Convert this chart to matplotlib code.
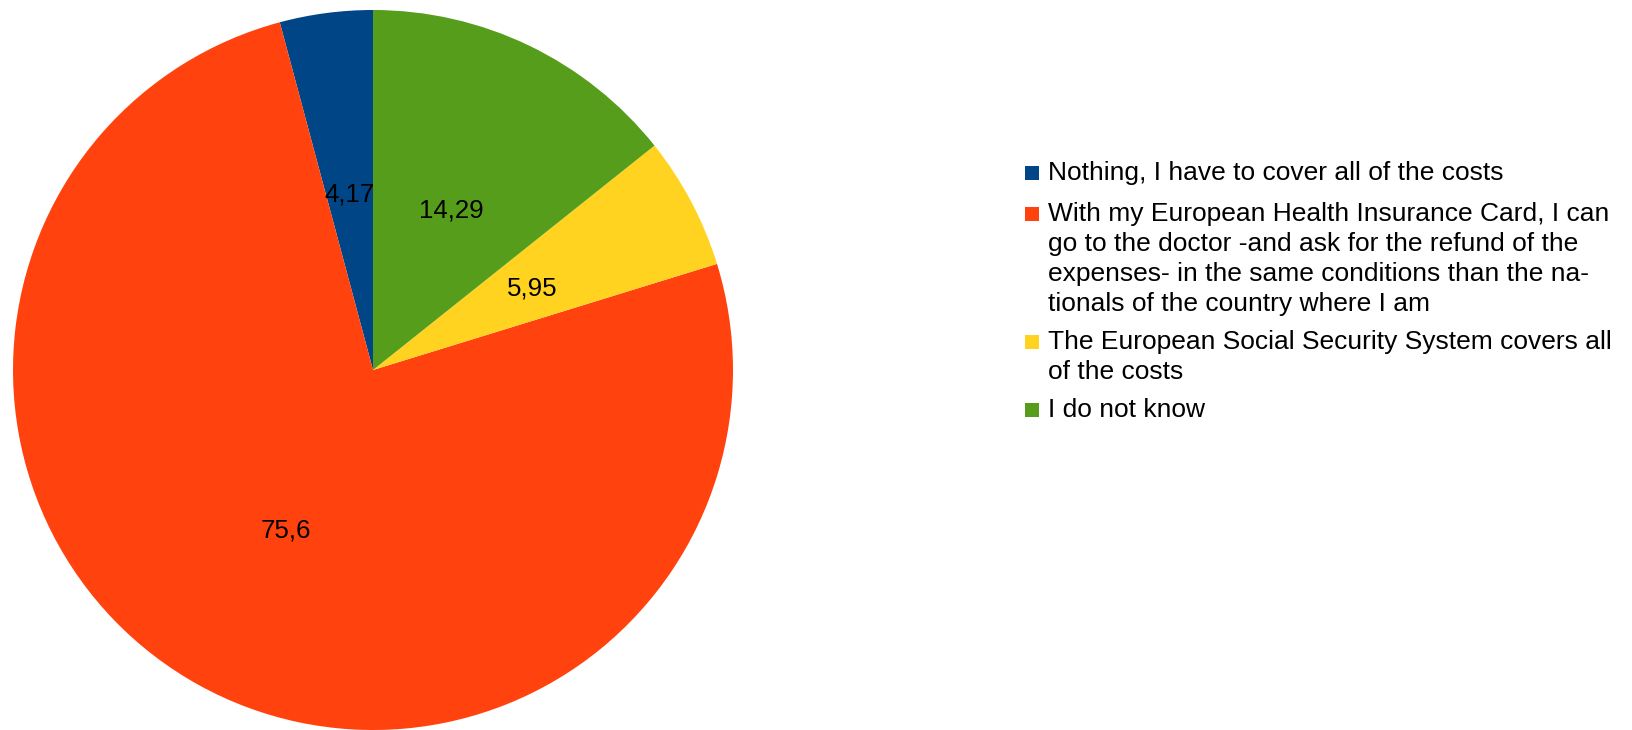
import matplotlib
matplotlib.use("Agg")
import matplotlib.pyplot as plt
from matplotlib.patches import Rectangle

plt.rcParams['font.family'] = ['Liberation Sans', 'DejaVu Sans']

categories = [
    "Nothing, I have to cover all of the costs",
    "With my European Health Insurance Card, I can\ngo to the doctor -and ask for the refund of the\nexpenses- in the same conditions than the na-\ntionals of the country where I am",
    "The European Social Security System covers all\nof the costs",
    "I do not know",
]
values = [4.17, 75.6, 5.95, 14.29]
value_labels = ["4,17", "75,6", "5,95", "14,29"]
colors = ["#004586", "#ff420e", "#ffd320", "#579d1c"]

W, H = 1632, 730
fig = plt.figure(figsize=(W / 100, H / 100), dpi=100)

# pie axes in pixel geometry
cx, cy, r = 373, 370, 360
ax = fig.add_axes([(cx - r) / W, (H - cy - r) / H, 2 * r / W, 2 * r / H])
wedges, texts, autotexts = ax.pie(values, colors=colors, startangle=90,
                                  counterclock=True, autopct=lambda p: "",
                                  pctdistance=0.5, radius=1.0,
                                  wedgeprops=dict(linewidth=0))
for t, lab in zip(autotexts, value_labels):
    t.set_text(lab)
    t.set_fontsize(18.6)
    t.set_color("black")
    x, y = t.get_position()
    t.set_position((x, y - 0.008))
ax.set_xlim(-1, 1)
ax.set_ylim(-1, 1)
ax.set_aspect("equal")
ax.axis("off")

# legend drawn manually
fs = 19
x_sq, sq = 1025, 14
x_txt = 1048
y_base = 180
line_step = 30
gaps = [11, 8, 8, 0]
for cat, col, gap in zip(categories, colors, gaps):
    lines = cat.split("\n")
    fig.patches.append(Rectangle((x_sq / W, 1 - y_base / H), sq / W, sq / H,
                                 transform=fig.transFigure, facecolor=col,
                                 edgecolor="none"))
    for ln in lines:
        fig.text(x_txt / W, 1 - y_base / H, ln, fontsize=fs, va="baseline",
                 ha="left", color="black")
        y_base += line_step
    y_base += gap

fig.savefig("out.png", dpi=100)
